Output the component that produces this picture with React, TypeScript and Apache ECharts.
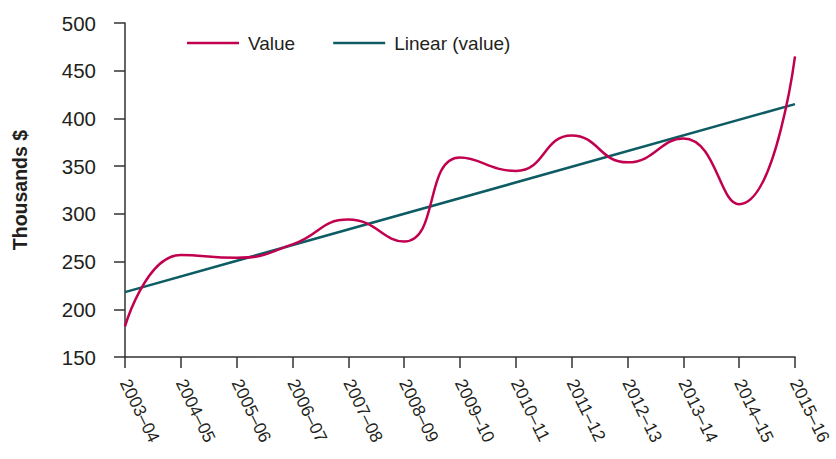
import React, { useEffect, useRef } from "react";
import * as echarts from "echarts";

const categories = [
  "2003–04", "2004–05", "2005–06", "2006–07", "2007–08", "2008–09", "2009–10",
  "2010–11", "2011–12", "2012–13", "2013–14", "2014–15", "2015–16",
];
const values = [182, 257, 254, 268, 294, 271, 359, 345, 382, 354, 379, 310, 465];
const trendEnds = [218, 415];
const yTicks = { min: 150, max: 500, interval: 50 };
const yTitle = "Thousands $";
const seriesNames = ["Value", "Linear (value)"];

const FONT = "'Liberation Sans', Arial, sans-serif";
const TEXT = "#231f20";

export default function App() {
  const ref = useRef<HTMLDivElement>(null);
  useEffect(() => {
    if (!ref.current) return;
    const chart = echarts.init(ref.current, null, { renderer: "svg" });
    const trendData = categories.map((_, i) =>
      i === 0 ? trendEnds[0] : i === categories.length - 1 ? trendEnds[1] : null
    );
    chart.setOption({
      animation: false,
      backgroundColor: "#ffffff",
      grid: { left: 125, right: 41, top: 23, bottom: 102, containLabel: false, outerBoundsMode: "none" },
      legend: {
        left: 182,
        top: 28.5,
        icon: "rect",
        itemWidth: 52,
        itemHeight: 2.5,
        itemGap: 38,
        textStyle: { fontFamily: FONT, fontSize: 19, color: TEXT, padding: [0, 0, 0, 4] },
        data: seriesNames,
      },
      xAxis: {
        type: "category",
        data: categories,
        boundaryGap: false,
        axisLine: { lineStyle: { color: "#333", width: 1.5 } },
        axisTick: { show: true, length: 11, alignWithLabel: true, lineStyle: { color: "#333", width: 1.5 } },
        axisLabel: {
          rotate: -64,
          margin: 23,
          fontFamily: FONT,
          fontSize: 17.5,
          lineHeight: 15,
          color: TEXT,
          interval: 0,
        },
        splitLine: { show: false },
      },
      yAxis: {
        type: "value",
        min: yTicks.min,
        max: yTicks.max,
        interval: yTicks.interval,
        name: yTitle,
        nameLocation: "middle",
        nameGap: 95,
        nameRotate: 90,
        nameTextStyle: { fontFamily: FONT, fontSize: 19.5, fontWeight: "bold", color: TEXT },
        axisLine: { show: true, lineStyle: { color: "#333", width: 1.5 } },
        axisTick: { show: true, length: 11, lineStyle: { color: "#333", width: 1.5 } },
        axisLabel: { margin: 29, fontFamily: FONT, fontSize: 20.5, color: TEXT },
        splitLine: { show: false },
      },
      series: [
        {
          name: seriesNames[0],
          type: "line",
          data: values,
          smooth: 0.5,
          symbol: "none",
          lineStyle: { color: "#c1004f", width: 2.5 },
          itemStyle: { color: "#c1004f" },
          z: 3,
        },
        {
          name: seriesNames[1],
          type: "line",
          data: trendData,
          connectNulls: true,
          symbol: "none",
          lineStyle: { color: "#0d5c63", width: 2.5 },
          itemStyle: { color: "#0d5c63" },
          z: 2,
        },
      ],
    });
    return () => chart.dispose();
  }, []);
  return (
    <div
      ref={ref}
      style={{ position: "absolute", left: 0, top: 0, width: 836, height: 459 }}
    />
  );
}
